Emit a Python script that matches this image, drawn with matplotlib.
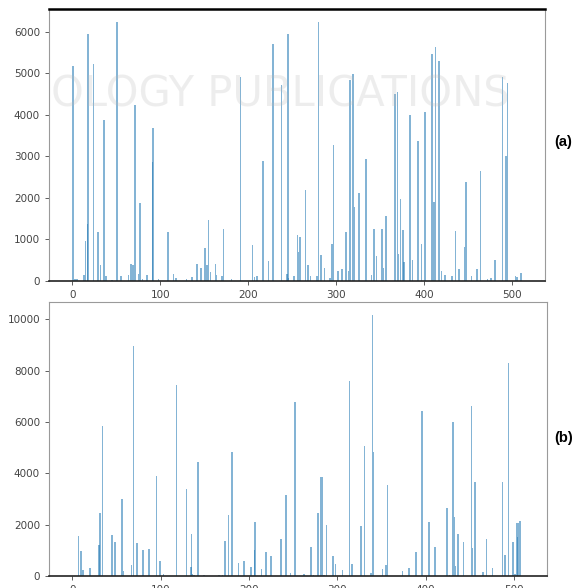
import numpy as np
import matplotlib
matplotlib.use('Agg')
import matplotlib.pyplot as plt

# dados: indice -> valor (restante = 0)
n_pts = 512

idx_a = [1, 3, 5, 13, 15, 17, 18, 24, 29, 32, 36, 38, 45, 51, 55, 64, 67, 69, 71, 75,
         77, 80, 85, 91, 92, 98, 109, 115, 118, 130, 136, 142, 146, 151, 153, 155, 157, 163, 164, 170,
         172, 181, 191, 205, 207, 210, 217, 223, 228, 238, 244, 245, 246, 252, 256, 257, 259, 265, 268, 271,
         278, 280, 283, 287, 293, 295, 297, 302, 307, 311, 314, 316, 319, 321, 326, 334, 340, 343, 346, 352,
         354, 357, 367, 370, 371, 373, 376, 377, 384, 387, 393, 397, 401, 409, 411, 413, 417, 420, 424, 432,
         436, 440, 446, 448, 454, 460, 464, 472, 476, 481, 489, 493, 495, 504, 506, 510]
val_a = [5170, 60, 40, 150, 970, 1370, 5950, 5230, 1170, 380, 3890, 130, 30, 6230, 130, 150, 410, 390, 4240, 160,
         1870, 60, 150, 2860, 3680, 50, 1170, 180, 80, 50, 100, 400, 310, 790, 380, 1460, 220, 400, 140, 110,
         1260, 60, 4920, 860, 100, 110, 2880, 470, 5710, 4730, 160, 5950, 80, 130, 1110, 700, 1070, 2200, 390, 130,
         130, 6240, 630, 320, 80, 880, 3270, 230, 300, 1180, 250, 4850, 4980, 1780, 2110, 2930, 150, 1260, 600, 1250,
         320, 1560, 4510, 4560, 640, 1980, 1240, 450, 4000, 500, 3370, 900, 4060, 5460, 1900, 5630, 5300, 250, 150, 120,
         1200, 300, 830, 2390, 120, 300, 2660, 60, 80, 500, 4920, 3010, 4770, 120, 100, 200]

idx_b = [7, 10, 12, 20, 30, 31, 34, 45, 48, 56, 58, 67, 69, 73, 80, 87, 95, 99, 103, 118,
         129, 134, 135, 136, 138, 142, 149, 166, 170, 173, 177, 181, 188, 194, 202, 206, 207, 214, 219, 225,
         236, 242, 247, 252, 262, 270, 273, 278, 281, 283, 285, 288, 295, 298, 306, 314, 317, 327, 331, 338,
         340, 341, 351, 355, 357, 374, 381, 389, 396, 404, 411, 424, 427, 431, 433, 434, 437, 443, 452, 453,
         456, 465, 469, 476, 487, 490, 494, 499, 501, 503, 504, 505, 507]
val_b = [1570, 990, 250, 300, 1210, 2440, 5840, 1590, 1320, 2980, 200, 430, 8950, 1280, 1000, 1050, 3880, 580, 60, 7430,
         3380, 340, 1620, 90, 50, 4450, 30, 30, 30, 1360, 2370, 4840, 520, 600, 350, 1020, 2110, 290, 930, 780,
         1430, 3150, 130, 6780, 60, 1120, 30, 2450, 3860, 3860, 50, 2000, 770, 480, 250, 7590, 470, 1930, 5070, 130,
         10160, 4830, 270, 430, 3530, 180, 310, 920, 6420, 2100, 1130, 2630, 50, 5990, 2300, 400, 1630, 1310, 6610, 1100,
         3660, 150, 1450, 320, 3670, 830, 8300, 1320, 60, 2050, 1500, 2080, 2140]

x = np.arange(n_pts)
serie_a = np.zeros(n_pts)
serie_a[idx_a] = val_a
serie_b = np.zeros(n_pts)
serie_b[idx_b] = val_b

cor = '#1f77b4'

fig = plt.figure(figsize=(5.85, 5.88), dpi=100)
ax1 = fig.add_axes([0.0838, 0.5221, 0.8478, 0.4626])
ax2 = fig.add_axes([0.0838, 0.0204, 0.8512, 0.4660])

for ax, y in [(ax1, serie_a), (ax2, serie_b)]:
    ax.bar(x, y, width=1.8, color=cor, alpha=0.55, linewidth=0)
    ax.set_xticks([0, 100, 200, 300, 400, 500])
    ax.tick_params(labelsize=7.5, colors='#444444', length=3, width=0.6)
    for s in ax.spines.values():
        s.set_color('#9a9a9a')
        s.set_linewidth(0.8)
    ax.spines['bottom'].set_color('#222222')
    ax.spines['bottom'].set_linewidth(1.2)

ax1.set_yticks([0, 1000, 2000, 3000, 4000, 5000, 6000])
ax1.spines['top'].set_color('black')
ax1.spines['top'].set_linewidth(1.8)
ax2.set_yticks([0, 2000, 4000, 6000, 8000, 10000])

# rotulos dos paineis
fig.text(0.948, 0.758, '(a)', fontsize=10.5, fontweight='bold', family='Liberation Sans', va='center')
fig.text(0.948, 0.255, '(b)', fontsize=10.5, fontweight='bold', family='Liberation Sans', va='center')

# marca d'agua clara
fig.text(0.48, 0.84, 'OLOGY PUBLICATIONS', fontsize=30, color='#bbbbbb', alpha=0.25,
         ha='center', va='center', family='DejaVu Sans', zorder=10)

plt.savefig('out.png', dpi=100)
